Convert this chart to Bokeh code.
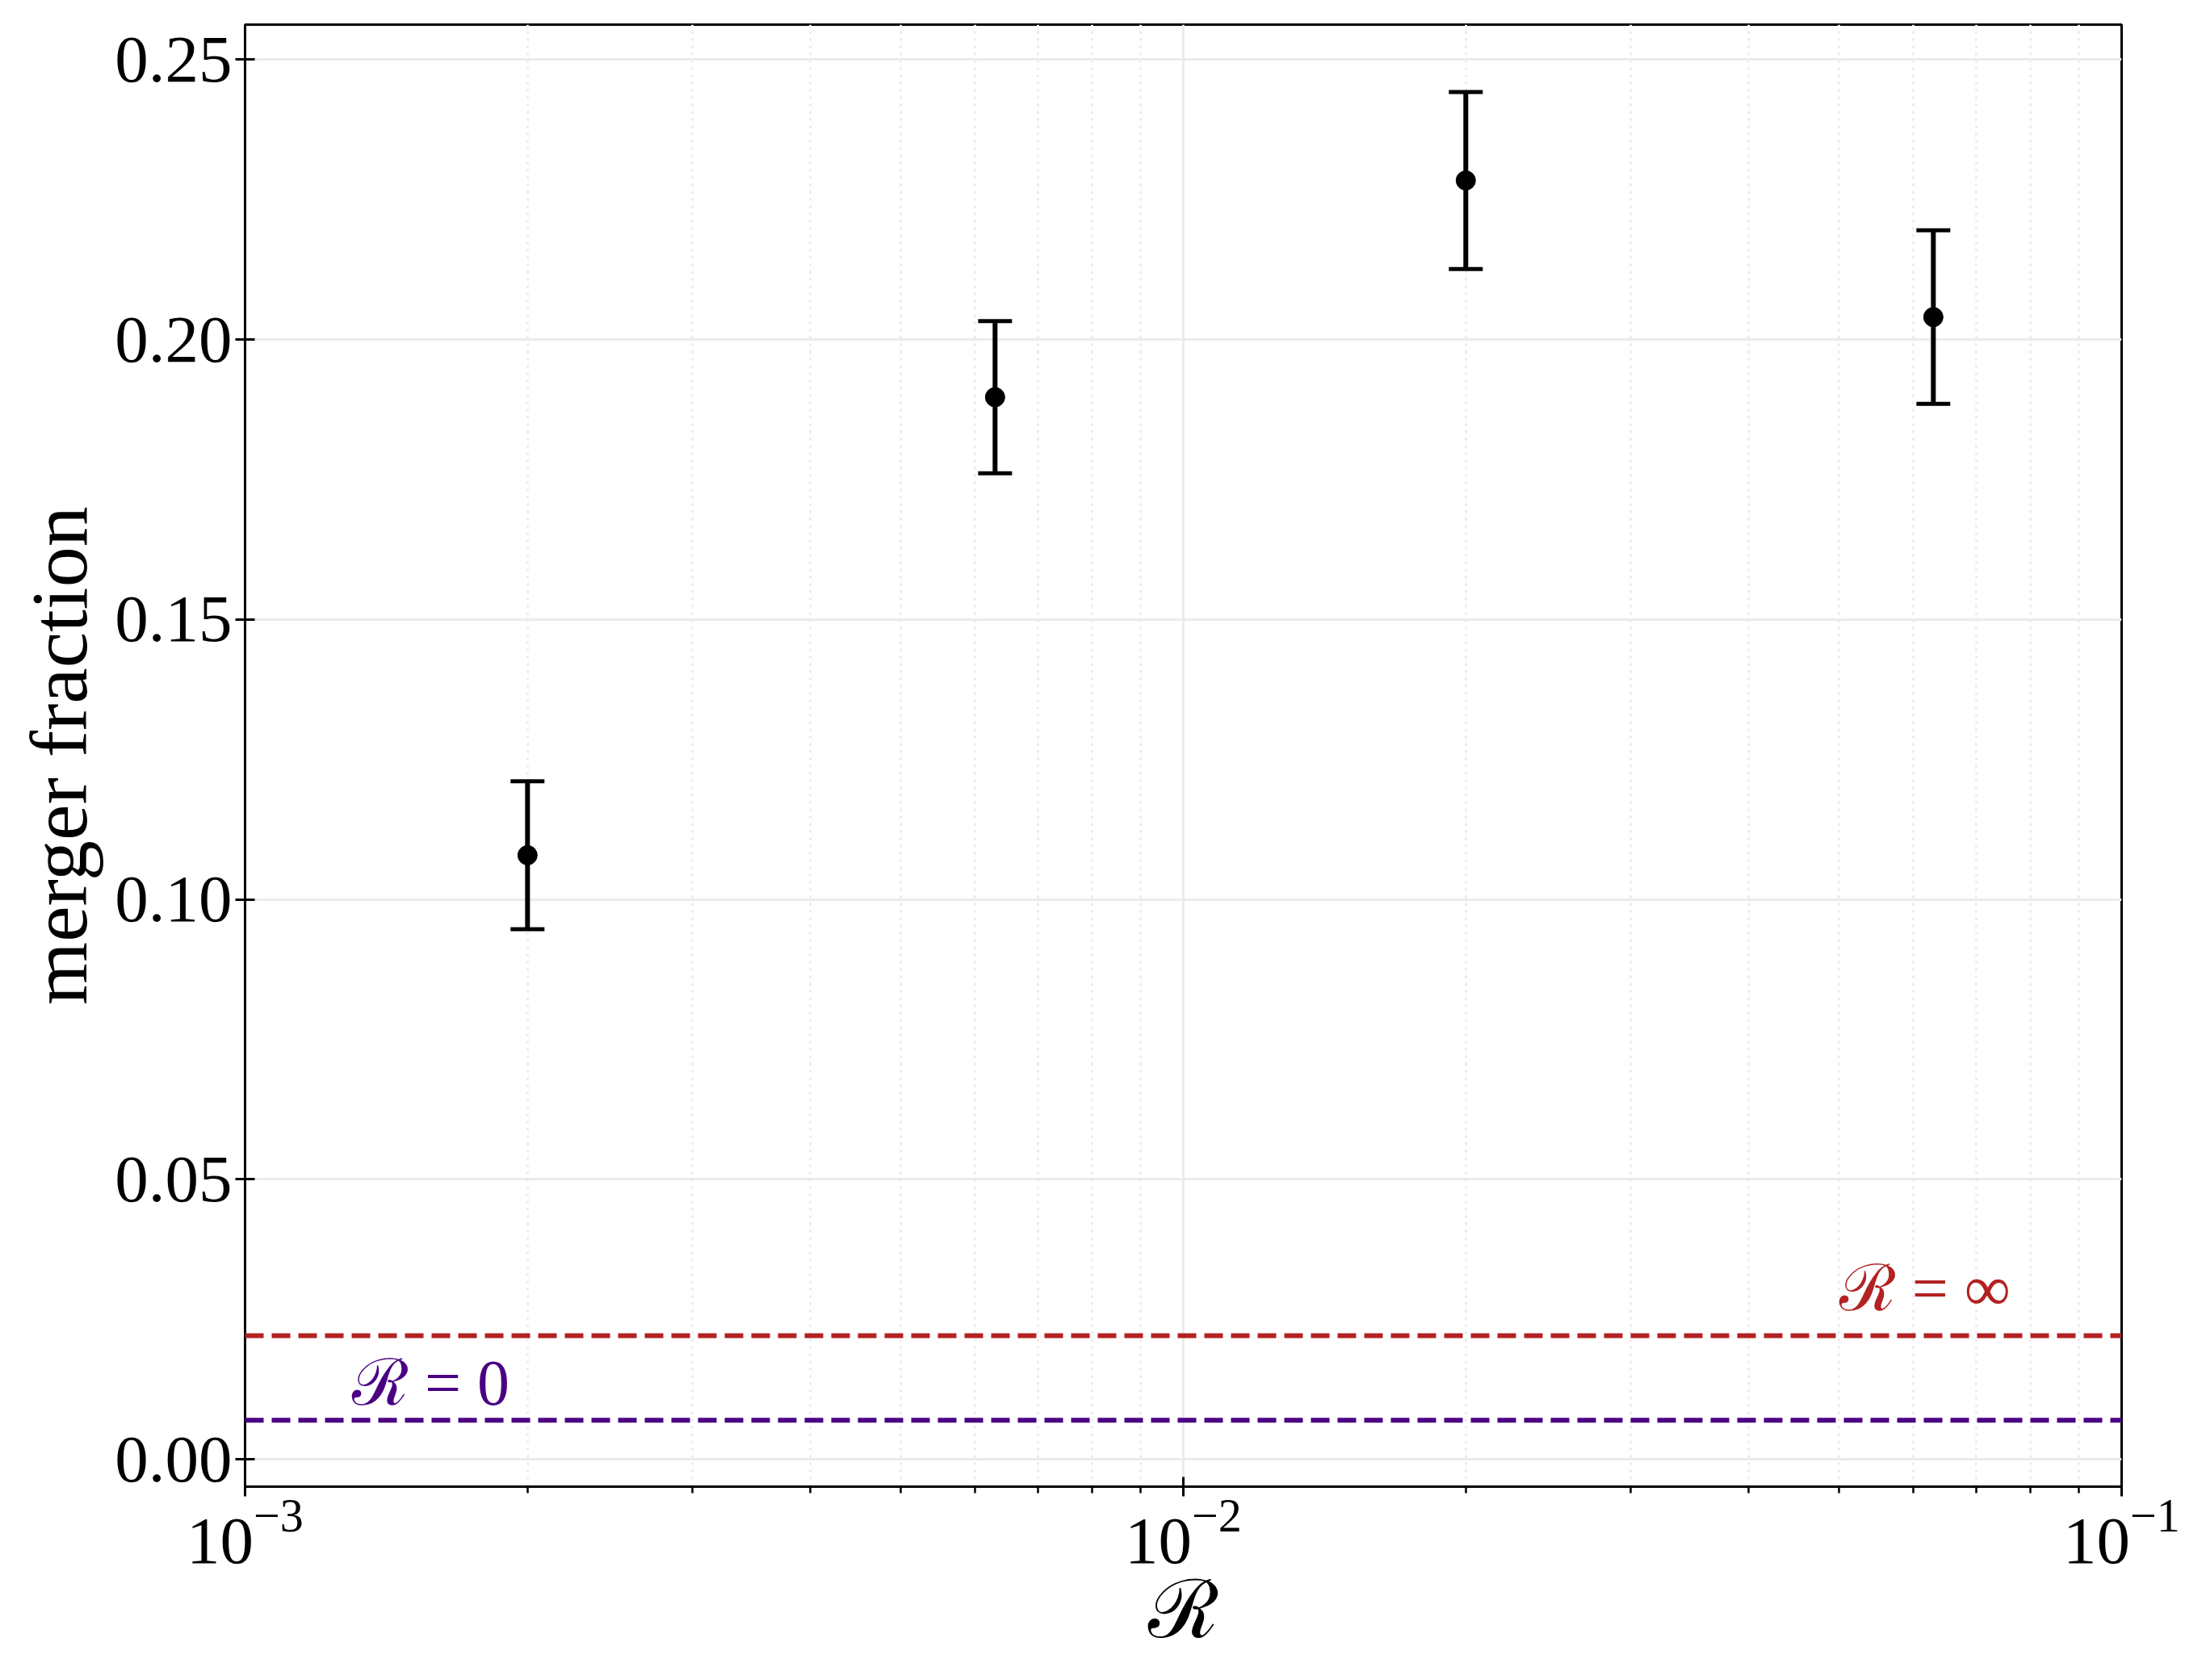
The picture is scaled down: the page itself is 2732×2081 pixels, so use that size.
from bokeh.plotting import figure
from bokeh.models import (ColumnDataSource, Span, Whisker, TeeHead, FixedTicker,
                          NumeralTickFormatter, LogTickFormatter, Range1d)
from bokeh.core.properties import value
from bokeh.embed import file_html
from bokeh.resources import INLINE

# ---- data ----
ratio = [0.002, 0.0063, 0.02, 0.063]
merger_frac = [0.1079, 0.1897, 0.2284, 0.2040]
merger_err = [0.0132, 0.0136, 0.0158, 0.0155]

limit_values = [0.0221, 0.0070]          # R = inf, R = 0
limit_labels = ["ℛ = ∞", "ℛ = 0"]
limit_colors = ["#b22222", "#4b0082"]
label_x = [0.05, 0.0013]
label_y = [0.0306, 0.0136]

x_ticks = [1e-3, 1e-2, 1e-1]
y_ticks = [0.0, 0.05, 0.10, 0.15, 0.20, 0.25]

FONT = "Liberation Serif"

p = figure(x_axis_type="log",
           x_range=Range1d(1e-3, 1e-1), y_range=Range1d(-0.00486, 0.25623),
           frame_width=2324, frame_height=1811,
           min_border_left=303, min_border_right=89,
           min_border_top=30, min_border_bottom=224,
           output_backend="svg", toolbar_location=None)
p.background_fill_color = "white"
p.border_fill_color = "white"
p.outline_line_color = "black"
p.outline_line_width = 3
p.outline_line_alpha = 1.0

# grids
for g in (p.xgrid, p.ygrid):
    g.grid_line_color = "#ebebeb"
    g.grid_line_width = 3
p.xgrid.minor_grid_line_color = "#ebebeb"
p.xgrid.minor_grid_line_width = 3
p.xgrid.minor_grid_line_dash = "3 6"

# axes
minor = [k * d for d in x_ticks[:-1] for k in range(2, 10)]
p.xaxis.ticker = FixedTicker(ticks=x_ticks, minor_ticks=minor)
p.xaxis.formatter = LogTickFormatter()
p.yaxis.ticker = FixedTicker(ticks=y_ticks)
p.yaxis.formatter = NumeralTickFormatter(format="0.00")

for ax in (p.xaxis, p.yaxis):
    ax.axis_line_width = 3
    ax.major_tick_line_width = 3
    ax.minor_tick_line_width = 2.5
    ax.major_tick_in = 12
    ax.major_tick_out = 12
    ax.major_label_text_font = FONT
    ax.major_label_text_font_size = "83px"
    ax.major_label_text_color = "black"
    ax.axis_label_text_font = FONT
    ax.axis_label_text_font_style = "normal"
    ax.axis_label_text_color = "black"

p.xaxis.minor_tick_in = 0
p.xaxis.minor_tick_out = 8
p.yaxis.minor_tick_in = 0
p.yaxis.minor_tick_out = 0
p.xaxis.major_label_standoff = 5
p.yaxis.major_label_standoff = 4

p.xaxis.axis_label = "ℛ"
p.xaxis.axis_label_text_font_size = "100px"
p.xaxis.axis_label_standoff = 0
p.yaxis.axis_label = "merger fraction"
p.yaxis.axis_label_text_font_size = "100px"
p.yaxis.axis_label_standoff = 10

# reference lines
for v, c in zip(limit_values, limit_colors):
    p.add_layout(Span(location=v, dimension="width", line_color=c,
                      line_width=6, line_dash="23 10"))

# labels
lab_src = ColumnDataSource(dict(x=label_x, y=label_y, t=limit_labels, c=limit_colors))
p.text(x="x", y="y", text="t", text_color="c", source=lab_src,
       text_font=value(FONT), text_font_size="80px",
       text_baseline="alphabetic", text_align="left")

# error bars
lower = [m - e for m, e in zip(merger_frac, merger_err)]
upper = [m + e for m, e in zip(merger_frac, merger_err)]
src = ColumnDataSource(dict(x=ratio, y=merger_frac, lo=lower, hi=upper))
w = Whisker(base="x", lower="lo", upper="hi", source=src, dimension="height",
            line_color="black", line_width=6,
            upper_head=TeeHead(size=42, line_width=5, line_color="black"),
            lower_head=TeeHead(size=42, line_width=5, line_color="black"))
p.add_layout(w)
p.scatter(x="x", y="y", source=src, marker="circle", size=24,
          fill_color="black", line_color="black")

open("out.html", "w").write(file_html(p, INLINE))
